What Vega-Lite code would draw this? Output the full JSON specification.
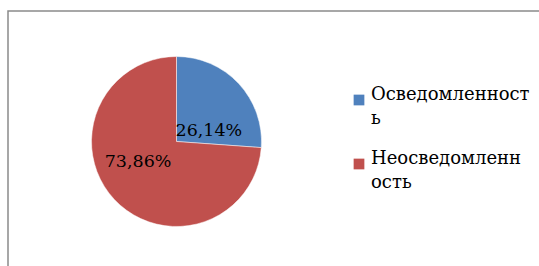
{
  "$schema": "https://vega.github.io/schema/vega-lite/v6.json",
  "autosize": {"type": "fit", "contains": "padding"},
  "width": 539,
  "height": 266,
  "padding": {"left": 8, "top": 11, "right": -6, "bottom": -6},
  "background": "white",
  "view": {"stroke": "#8a8a8a", "strokeWidth": 1.5, "fill": "white"},
  "config": {
    "view": {"stroke": "#8a8a8a", "strokeWidth": 1.5},
    "font": "DejaVu Serif",
    "style": {"guide-label": {"lineHeight": 24}}
  },
  "data": {
    "values": [
      {"category": "Осведомленность", "value": 26.14, "label": "26,14%"},
      {"category": "Неосведомленность", "value": 73.86, "label": "73,86%"}
    ]
  },
  "encoding": {
    "theta": {"field": "value", "type": "quantitative", "stack": true},
    "order": {"field": "value", "type": "quantitative", "sort": "ascending"}
  },
  "layer": [
    {
      "mark": {"type": "arc", "radius": 85, "xOffset": -100, "stroke": "white", "strokeWidth": 0.5},
      "encoding": {
        "color": {
          "field": "category",
          "type": "nominal",
          "scale": {"domain": ["Осведомленность", "Неосведомленность"], "range": ["#4F81BD", "#C0504D"]},
          "sort": ["Осведомленность", "Неосведомленность"],
          "legend": {
            "title": null,
            "orient": "none",
            "legendX": 342,
            "legendY": 80,
            "padding": 0,
            "symbolType": "square",
            "symbolSize": 115,
            "symbolStrokeWidth": 0,
            "labelFont": "DejaVu Serif",
            "labelFontSize": 18,
            "labelColor": "black",
            "labelOffset": 3,
            "labelLimit": 300,
            "labelBaseline": "alphabetic",
            "rowPadding": 22,
            "labelExpr": "datum.label == 'Осведомленность' ? ['Осведомленност', 'ь'] : ['Неосведомленн', 'ость']",
            "encode": {"labels": {"update": {"lineHeight": {"value": 24}, "dy": {"value": 9}}}}
          }
        }
      }
    },
    {
      "mark": {"type": "text", "radius": 36, "xOffset": -100, "dx": 6, "dy": 14, "fontSize": 17.5, "font": "DejaVu Serif", "color": "black", "align": "center", "baseline": "middle"},
      "encoding": {"text": {"condition": {"test": "datum.value < 50", "field": "label"}, "value": ""}}
    },
    {
      "mark": {"type": "text", "radius": 43, "xOffset": -100, "dx": -7, "dy": -9, "fontSize": 17.5, "font": "DejaVu Serif", "color": "black", "align": "center", "baseline": "middle"},
      "encoding": {"text": {"condition": {"test": "datum.value > 50", "field": "label"}, "value": ""}}
    }
  ]
}
